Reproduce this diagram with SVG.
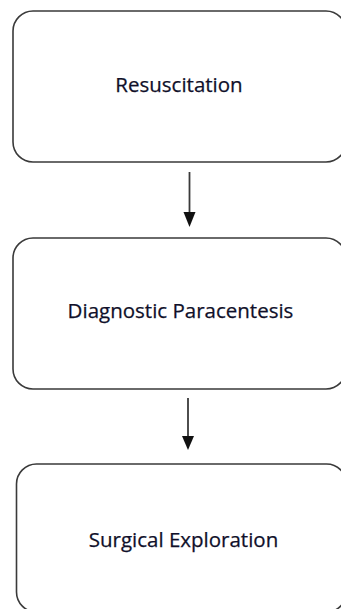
<svg xmlns="http://www.w3.org/2000/svg" width="341" height="609" viewBox="0 0 341 609">
<style>
.box{fill:#fff;stroke:#3a3a3a;stroke-width:1.6}
.lbl{font-family:"Open Sans","Liberation Sans",sans-serif;font-size:20.5px;fill:#10102a;text-anchor:middle;stroke:#10102a;stroke-width:0.25}
.conn{stroke:#3a3a3a;stroke-width:1.8;fill:none}
</style>
<rect width="341" height="609" fill="#fff"/>
<g id="connectors">
<line class="conn" x1="189.5" y1="172" x2="189.5" y2="213"/>
<path d="M183.5,212 L195.5,212 L189.5,227 Z" fill="#111"/>
<line class="conn" x1="188" y1="398" x2="188" y2="437"/>
<path d="M182,436 L194,436 L188,450 Z" fill="#111"/>
</g>
<g id="node-resuscitation">
<rect class="box" x="13" y="11" width="333" height="151" rx="20"/>
<text class="lbl" x="179" y="92">Resuscitation</text>
</g>
<g id="node-diagnostic">
<rect class="box" x="13" y="238" width="333" height="151" rx="20"/>
<text class="lbl" x="180.5" y="318">Diagnostic Paracentesis</text>
</g>
<g id="node-surgical">
<rect class="box" x="16.5" y="464" width="330" height="148" rx="20"/>
<text class="lbl" x="183.5" y="547">Surgical Exploration</text>
</g>
</svg>
